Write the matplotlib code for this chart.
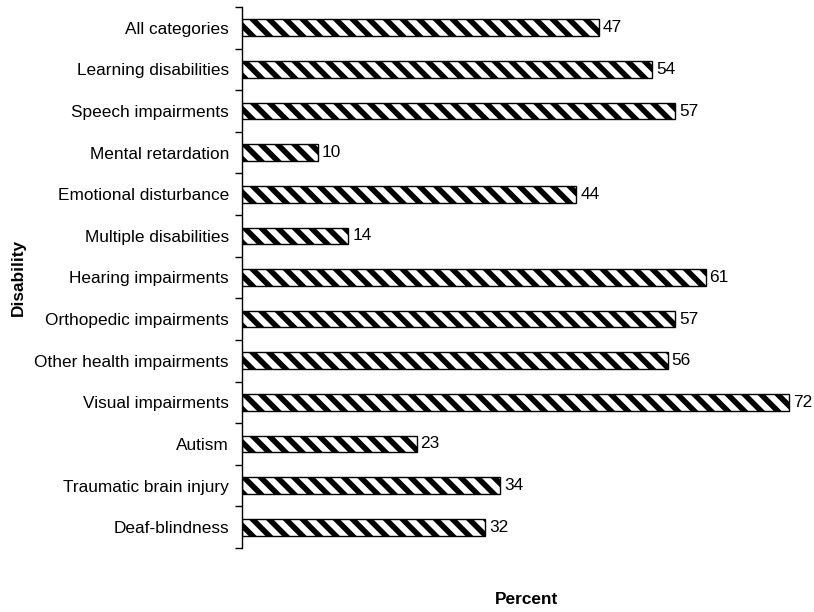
import matplotlib
matplotlib.use("Agg")
import matplotlib.pyplot as plt

categories = ["All categories", "Learning disabilities", "Speech impairments",
              "Mental retardation", "Emotional disturbance", "Multiple disabilities",
              "Hearing impairments", "Orthopedic impairments", "Other health impairments",
              "Visual impairments", "Autism", "Traumatic brain injury", "Deaf-blindness"]
values = [47, 54, 57, 10, 44, 14, 61, 57, 56, 72, 23, 34, 32]

plt.rcParams['font.family'] = ['Liberation Sans', 'DejaVu Sans']
plt.rcParams['hatch.linewidth'] = 4.0
plt.rcParams['hatch.color'] = 'black'

fs = 12.4
fig = plt.figure(figsize=(8.14, 6.12), dpi=100)
ax = fig.add_axes([242/814, 64/612, 570/814, (548-7)/612])

n = len(categories)
ypos = list(range(n))
ax.barh(ypos, values, height=0.4, color='white', edgecolor='black',
        linewidth=1.0, hatch='\\\\')
ax.set_ylim(n - 0.5, -0.5)
ax.set_xlim(0, 75)

for y, v in zip(ypos, values):
    ax.text(v + 0.5, y, str(v), va='center', ha='left', fontsize=fs)

ax.set_yticks(ypos)
ax.set_yticklabels(categories, fontsize=fs)
ax.tick_params(axis='y', which='major', length=0, pad=9.4)
ax.set_yticks([i - 0.5 for i in range(n + 1)], minor=True)
ax.tick_params(axis='y', which='minor', length=5, width=1, direction='out')

for s in ['top', 'right', 'bottom']:
    ax.spines[s].set_visible(False)
ax.spines['left'].set_linewidth(1)
ax.set_xticks([])

ax.set_ylabel('Disability', fontsize=fs, fontweight='bold')
ax.yaxis.label.set_va('center')
ax.yaxis.set_label_coords((18 - 242) / 570, 0.5)
ax.set_xlabel('Percent', fontsize=fs, fontweight='bold')
ax.xaxis.label.set_va('center')
ax.xaxis.set_label_coords(0.5, -(600 - 548) / 541)

fig.savefig('out.png', dpi=100)
